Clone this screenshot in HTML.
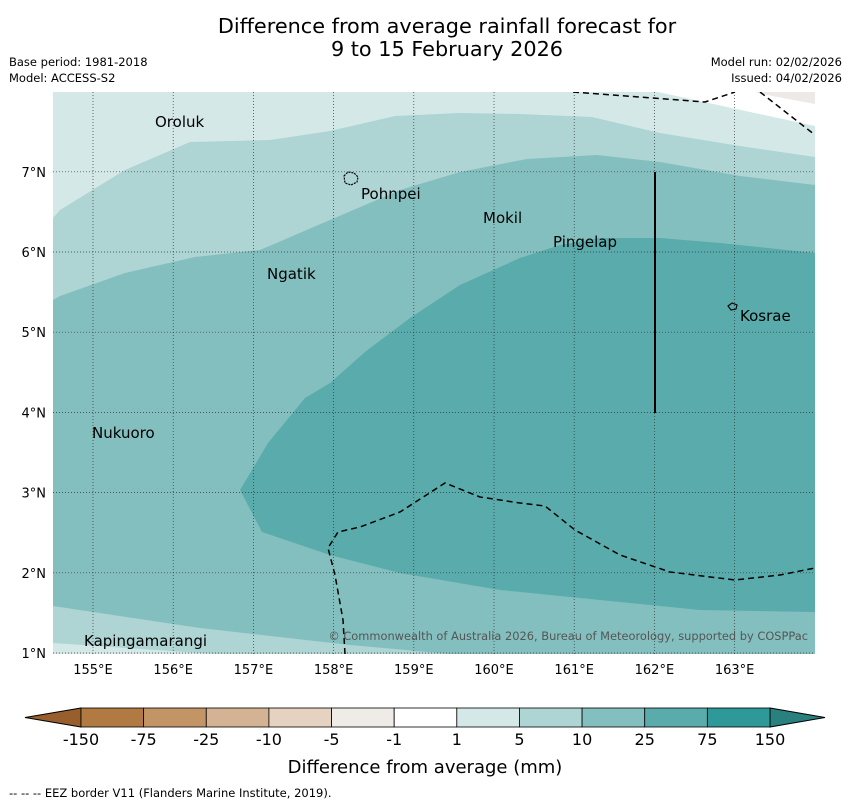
<!DOCTYPE html>
<html><head><meta charset="utf-8"><style>
body{margin:0;background:#fff;font-family:"Liberation Sans","DejaVu Sans",sans-serif;}
svg text{font-family:"DejaVu Sans","Liberation Sans",sans-serif;}
</style></head><body>
<svg id="chart" width="850" height="804" xmlns="http://www.w3.org/2000/svg">
<text x="447" y="33" font-size="20.8" text-anchor="middle">Difference from average rainfall forecast for</text>
<text x="447" y="56" font-size="20.8" text-anchor="middle">9 to 15 February 2026</text>
<text x="9" y="66" font-size="11.5">Base period: 1981-2018</text>
<text x="9" y="82" font-size="11.5">Model: ACCESS-S2</text>
<text x="842" y="66" font-size="11.5" text-anchor="end">Model run: 02/02/2026</text>
<text x="842" y="82" font-size="11.5" text-anchor="end">Issued: 04/02/2026</text>
<defs><clipPath id="mapclip"><rect x="53" y="92" width="762" height="562"/></clipPath></defs>
<g clip-path="url(#mapclip)">
<rect x="53" y="92" width="762" height="562" fill="#d5e8e8"/>
<polygon points="658,92 815,126 815,92" fill="#ffffff"/>
<polygon points="755,92 815,92 815,104 762,94" fill="#ede9e6"/>
<polygon points="53,218 60,210 125,170 190,142 270,140 330,131 395,116 460,113 520,114 592,117 660,133 740,146 815,157 815,654 53,654" fill="#aed4d4"/>
<polygon points="53,643 53,654 215,654" fill="#d5e8e8"/>
<polygon points="53,300 60,296 125,273 195,257 260,250 330,220 400,190 460,172 527,159 597,155 660,162 740,176 815,185 815,654 450,654 350,645 200,628 53,606" fill="#84bfbf"/>
<polygon points="815,253 720,243 660,238 600,238 560,245 520,258 460,285 410,318 365,352 330,383 305,398 268,443 240,490 262,532 330,555 400,573 500,590 600,600 700,610 815,612" fill="#5aabab"/>
<g id="grid"></g>
<polyline points="573,92 705,102 735,92" fill="none" stroke="#000" stroke-width="1.5" stroke-dasharray="6,4"/>
<polyline points="760,92 815,135" fill="none" stroke="#000" stroke-width="1.5" stroke-dasharray="6,4"/>
<polyline points="345,654 343,620 335,575 328,548 338,532 360,527 400,512 445,483 480,497 520,503 545,506 575,530 620,555 670,572 735,580 780,575 815,568" fill="none" stroke="#000" stroke-width="1.5" stroke-dasharray="6,4"/>
<line x1="655" y1="172" x2="655" y2="413" stroke="#000" stroke-width="2"/>
<path d="M344,176 l4,-4 l6,1 l4,4 l-1,5 l-6,3 l-6,-2 z" fill="none" stroke="#000" stroke-width="1.2" stroke-dasharray="2,1"/>
<path d="M728,306 l4,-3 l5,2 l-1,4 l-5,1 z" fill="none" stroke="#000" stroke-width="1.1"/>
<g font-size="15" fill="#000">
<text x="155" y="127">Oroluk</text>
<text x="361" y="199">Pohnpei</text>
<text x="483" y="223">Mokil</text>
<text x="553" y="247">Pingelap</text>
<text x="267" y="279">Ngatik</text>
<text x="740" y="321">Kosrae</text>
<text x="92" y="438">Nukuoro</text>
<text x="84" y="646">Kapingamarangi</text>
</g>
<text x="808" y="640" font-size="11.4" fill="#555" text-anchor="end">© Commonwealth of Australia 2026, Bureau of Meteorology, supported by COSPPac</text>
</g>
<g id="axes"></g>
<g id="cbar"></g>
<text x="425" y="773" font-size="18" text-anchor="middle">Difference from average (mm)</text>
<text x="9" y="797" font-size="11.5">--  --  -- EEZ border V11 (Flanders Marine Institute, 2019).</text>
</svg>
<script>
const lonTicks=[155,156,157,158,159,160,161,162,163];
const latTicks=[1,2,3,4,5,6,7];
const cbLabels=["-150","-75","-25","-10","-5","-1","1","5","10","25","75","150"];
const cbColors=["#b07a42","#c39566","#d4b394","#e5d2c0","#efebe7","#ffffff","#d5e8e8","#aed4d4","#84bfbf","#5aabab","#2f9898"];
const NS="http://www.w3.org/2000/svg";
const xLon=l=>93+(l-155)*80.2;
const yLat=a=>653-(a-1)*80.2;
function mk(t,a,p){const e=document.createElementNS(NS,t);for(const k in a)e.setAttribute(k,a[k]);p.appendChild(e);return e;}
const grid=document.getElementById('grid'),axes=document.getElementById('axes'),cb=document.getElementById('cbar');
lonTicks.forEach(l=>{const x=xLon(l);
 const g=mk('line',{x1:x,y1:92,x2:x,y2:654,stroke:'#333','stroke-width':0.7,'stroke-dasharray':'1,2'},grid);
 
 
 const t=mk('text',{x:x,y:674,'font-size':13,'text-anchor':'middle'},axes);t.textContent=l+'°E';
 
 });
latTicks.forEach(a=>{const y=yLat(a);
 const g=mk('line',{x1:53,y1:y,x2:815,y2:y,stroke:'#333','stroke-width':0.7,'stroke-dasharray':'1,2'},grid);
 
 
 const t=mk('text',{x:46,y:y+5,'font-size':13,'text-anchor':'end'},axes);t.textContent=a+'°N';
 
 });
const x0=81,x1=770,w=(x1-x0)/cbColors.length,cy=708,ch=19;
const lt=mk('polygon',{points:`25,${cy+ch/2} ${x0},${cy} ${x0},${cy+ch}`,fill:'#985f2c',stroke:'#000','stroke-width':1},cb);


const rt=mk('polygon',{points:`825,${cy+ch/2} ${x1},${cy} ${x1},${cy+ch}`,fill:'#2a7f7f',stroke:'#000','stroke-width':1},cb);


cbColors.forEach((c,i)=>{const r=mk('rect',{x:x0+i*w,y:cy,width:w,height:ch,fill:c,stroke:'#000','stroke-width':0.8},cb);
 
 });
cbLabels.forEach((s,i)=>{const t=mk('text',{x:x0+i*w,y:745,'font-size':16,'text-anchor':'middle'},cb);t.textContent=s;
 
 });
</script>
</body></html>
